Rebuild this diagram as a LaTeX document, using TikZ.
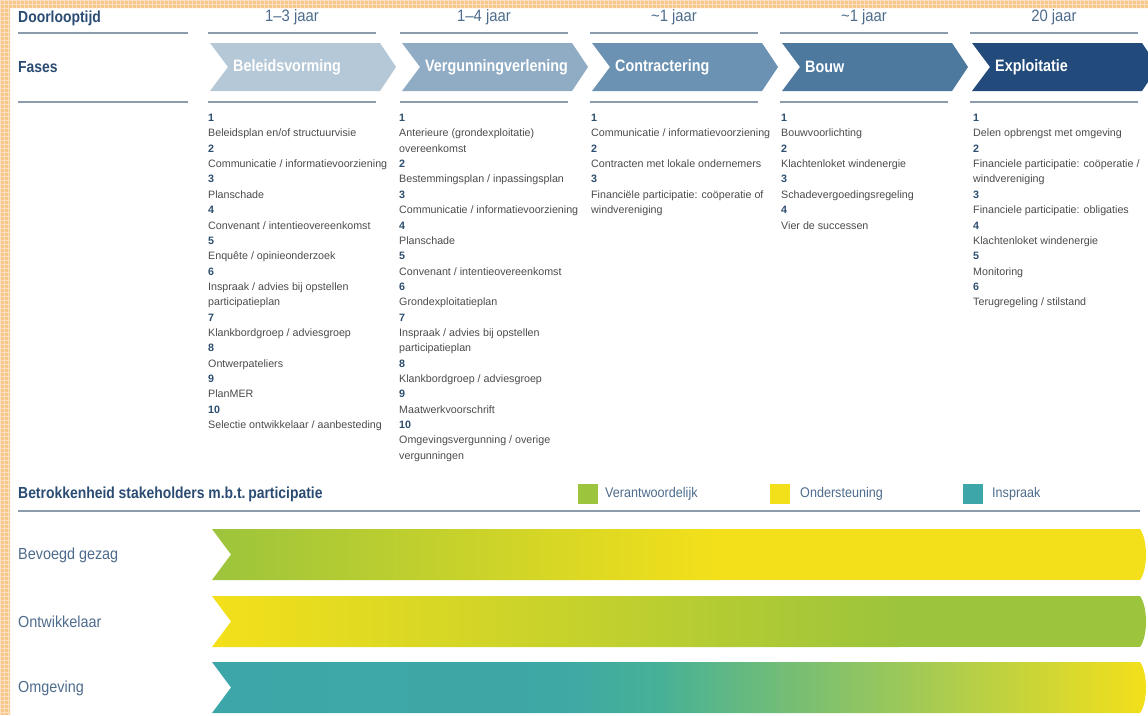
\documentclass[tikz,border=0pt]{standalone}
\usepackage{fontspec}
\setmainfont{Liberation Sans}
\newfontfamily\condfont[FakeStretch=0.9]{Liberation Sans}
\newfontfamily\condbold[FakeStretch=0.87]{Liberation Sans Bold}

\definecolor{headblue}{HTML}{2A4B72}
\definecolor{durblue}{HTML}{4D6B8C}
\definecolor{rulegray}{HTML}{8C9CAC}
\definecolor{itemgray}{HTML}{4B4B4B}
\definecolor{nrblue}{HTML}{2C4D6E}
\definecolor{faseA}{HTML}{B5C8D7}
\definecolor{faseB}{HTML}{90ACC4}
\definecolor{faseC}{HTML}{6B92B3}
\definecolor{faseD}{HTML}{4E799F}
\definecolor{faseE}{HTML}{224B7B}
\definecolor{verantw}{HTML}{9CC43C}
\definecolor{onderst}{HTML}{F4E01A}
\definecolor{inspraak}{HTML}{3DA6A8}
\definecolor{tealgreen}{HTML}{47B196}
\definecolor{bandorange}{HTML}{F8C78C}

\newcommand{\itemnr}[1]{{\bfseries\color{nrblue}#1}}

\tikzset{
  regel/.style={draw=rulegray, line width=1.3pt},
  kop/.style={anchor=west, inner sep=0pt, text=headblue, font=\condbold\fontsize{16}{18}\selectfont},
  duur/.style={inner sep=0pt, text=durblue, font=\condfont\fontsize{16.5}{18}\selectfont},
  fasetekst/.style={anchor=west, inner sep=0pt, text=white, font=\condbold\fontsize{16.5}{18}\selectfont},
  lijst/.style={anchor=north west, inner sep=0pt, align=left, text=itemgray, font=\fontsize{10.7}{15.35}\selectfont},
  rij/.style={anchor=west, inner sep=0pt, text=durblue, font=\condfont\fontsize{16}{18}\selectfont},
  legenda/.style={anchor=west, inner sep=0pt, text=durblue, font=\condfont\fontsize{14}{16}\selectfont}
}

\begin{document}
\begin{tikzpicture}[x=1pt, y=-1pt]
  \useasboundingbox (0,0) rectangle (1148,715);

  % rand
  \begin{scope}
    \clip (0,0) rectangle (1148,8) (0,0) rectangle (10,715);
    \fill[bandorange] (0,0) rectangle (1148,715);
    \draw[white, opacity=0.45, line width=0.5pt] (0,0) grid[step=4pt] (1148,715);
  \end{scope}

  % kopjes links
  \node[kop] (doorloop) at (18,18) {Doorlooptijd};
  \node[kop] (fases) at (18,67) {Fases};
  \draw[regel] (18,33) -- (188,33);
  \draw[regel] (18,102) -- (188,102);

  % fasen
  \foreach \x/\kleur/\fase/\duur [count=\i] in {
      210/faseA/Beleidsvorming/1–3 jaar,
      402/faseB/Vergunningverlening/1–4 jaar,
      592/faseC/Contractering/\textasciitilde1 jaar,
      782/faseD/Bouw/\textasciitilde1 jaar,
      972/faseE/Exploitatie/20 jaar}{
    \node[duur] (duur\i) at (\x+82,17) {\duur};
    \draw[regel] (\x-2,33) -- (\x+166,33);
    \fill[\kleur] (\x,43) -- (\x+170,43) -- (\x+186,67) -- (\x+170,91)
        -- (\x,91) -- (\x+18,67) -- cycle;
    \node[fasetekst] (fase\i) at (\x+23,67) {\fase};
    \draw[regel] (\x-2,102) -- (\x+166,102);
  }

  % instrumenten per fase
  \node[lijst] (lijst1) at (208,114) {\itemnr{1}\\Beleidsplan en/of structuurvisie\\
    \itemnr{2}\\Communicatie / informatievoorziening\\\itemnr{3}\\Planschade\\
    \itemnr{4}\\Convenant / intentieovereenkomst\\\itemnr{5}\\Enquête / opinieonderzoek\\
    \itemnr{6}\\Inspraak / advies bij opstellen\\participatieplan\\
    \itemnr{7}\\Klankbordgroep / adviesgroep\\\itemnr{8}\\Ontwerpateliers\\
    \itemnr{9}\\PlanMER\\\itemnr{10}\\Selectie ontwikkelaar / aanbesteding};
  \node[lijst] (lijst2) at (399,114) {\itemnr{1}\\Anterieure (grondexploitatie)\\overeenkomst\\
    \itemnr{2}\\Bestemmingsplan / inpassingsplan\\\itemnr{3}\\Communicatie / informatievoorziening\\
    \itemnr{4}\\Planschade\\\itemnr{5}\\Convenant / intentieovereenkomst\\
    \itemnr{6}\\Grondexploitatieplan\\\itemnr{7}\\Inspraak / advies bij opstellen\\participatieplan\\
    \itemnr{8}\\Klankbordgroep / adviesgroep\\\itemnr{9}\\Maatwerkvoorschrift\\
    \itemnr{10}\\Omgevingsvergunning / overige\\vergunningen};
  \node[lijst] (lijst3) at (591,114) {\itemnr{1}\\Communicatie / informatievoorziening\\
    \itemnr{2}\\Contracten met lokale ondernemers\\
    \itemnr{3}\\Financiële participatie: coöperatie of\\windvereniging};
  \node[lijst] (lijst4) at (781,114) {\itemnr{1}\\Bouwvoorlichting\\
    \itemnr{2}\\Klachtenloket windenergie\\\itemnr{3}\\Schadevergoedingsregeling\\
    \itemnr{4}\\Vier de successen};
  \node[lijst] (lijst5) at (973,114) {\itemnr{1}\\Delen opbrengst met omgeving\\
    \itemnr{2}\\Financiele participatie: coöperatie /\\windvereniging\\
    \itemnr{3}\\Financiele participatie: obligaties\\\itemnr{4}\\Klachtenloket windenergie\\
    \itemnr{5}\\Monitoring\\\itemnr{6}\\Terugregeling / stilstand};

  % betrokkenheid
  \node[kop] (betrok) at (18,494) {Betrokkenheid stakeholders m.b.t.\,participatie};
  \fill[verantw] (578,484) rectangle (598,504);
  \node[legenda] (leg1) at (605,494) {Verantwoordelijk};
  \fill[onderst] (770,484) rectangle (790,504);
  \node[legenda] (leg2) at (800,494) {Ondersteuning};
  \fill[inspraak] (963,484) rectangle (983,504);
  \node[legenda] (leg3) at (992,494) {Inspraak};
  \draw[regel] (18,511) -- (1140,511);

  \node[rij] (gezag) at (18,555) {Bevoegd gezag};
  \node[rij] (ontw) at (18,622) {Ontwikkelaar};
  \node[rij] (omg) at (18,688) {Omgeving};

  % balken
  \begin{scope}
    \clip (212,529) -- (1140,529) .. controls (1148,540) and (1148,569) .. (1140,580)
        -- (212,580) -- (231,554.5) -- cycle;
    \shade[left color=verantw, right color=onderst] (212,529) rectangle (720,580);
    \fill[onderst] (719,529) rectangle (1148,580);
  \end{scope}
  \begin{scope}
    \clip (212,596) -- (1140,596) .. controls (1148,607) and (1148,636) .. (1140,647)
        -- (212,647) -- (231,621.5) -- cycle;
    \shade[left color=onderst, right color=verantw] (212,596) rectangle (900,647);
    \fill[verantw] (899,596) rectangle (1148,647);
  \end{scope}
  \begin{scope}
    \clip (212,662) -- (1140,662) .. controls (1148,673) and (1148,702) .. (1140,713)
        -- (212,713) -- (231,687.5) -- cycle;
    \shade[left color=inspraak, right color=inspraak!85!tealgreen] (212,662) rectangle (561,713);
    \shade[left color=inspraak!85!tealgreen, right color=tealgreen] (560,662) rectangle (661,713);
    \shade[left color=tealgreen, right color=onderst] (660,662) rectangle (1148,713);
  \end{scope}
\end{tikzpicture}
\end{document}
